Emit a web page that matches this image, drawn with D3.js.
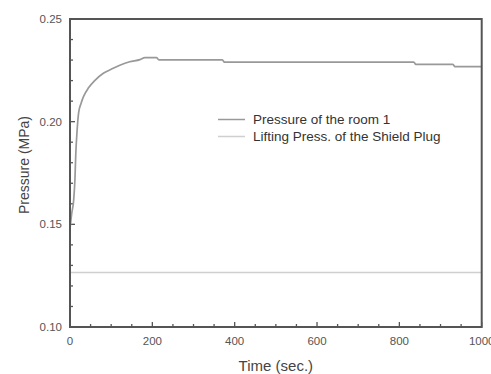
<!DOCTYPE html>
<html><head><meta charset="utf-8">
<script src="https://cdn.jsdelivr.net/npm/d3@7"></script>
<style>body{margin:0;background:#fff}svg{display:block}</style>
</head><body>
<script>
const timeSec = [0,4,9,12,14,17,21,27,33,45,60,81,100,121,145,170,182,210,216,370,375,835,840,930,935,1000];
const roomPressure = [0.148,0.155,0.162,0.172,0.184,0.195,0.2044,0.209,0.2123,0.2165,0.2200,0.2236,0.2255,0.2275,0.2292,0.2302,0.2312,0.2312,0.2301,0.2301,0.229,0.229,0.2279,0.2279,0.2268,0.2268];
const liftTime = [0,1000];
const liftPressure = [0.1265,0.1265];
const seriesNames = ["Pressure of the room 1","Lifting Press. of the Shield Plug"];
const xTicks = [0,200,400,600,800,1000];
const yTicks = [0.10,0.15,0.20,0.25];

const W=491,H=374;
const m={l:70,r:9.3,t:19,b:47};
const svg=d3.select("body").append("svg").attr("width",W).attr("height",H);
const x=d3.scaleLinear().domain([0,1000]).range([m.l,W-m.r]);
const y=d3.scaleLinear().domain([0.10,0.25]).range([H-m.b,m.t]);
const font="'Liberation Sans', Arial, sans-serif";
const axCol="#555";

// minor ticks
const xMinor=d3.range(0,1001,50), yMinor=d3.range(10,26).map(v=>v/100);
const g=svg.append("g");
g.selectAll(".xm").data(xMinor).join("line")
 .attr("x1",d=>x(d)).attr("x2",d=>x(d)).attr("y1",y(0.10)).attr("y2",d=>y(0.10)-(d%200===0?5:3))
 .attr("stroke",axCol).attr("stroke-width",1.3);
g.selectAll(".ym").data(yMinor).join("line")
 .attr("y1",d=>y(d)).attr("y2",d=>y(d)).attr("x1",x(0)).attr("x2",d=>x(0)+(Math.round(d*100)%5===0?5:3))
 .attr("stroke",axCol).attr("stroke-width",1.3);

// tick labels
g.selectAll(".xl").data(xTicks).join("text").attr("x",d=>x(d)).attr("y",y(0.10)+18)
 .attr("text-anchor","middle").attr("font-family",font).attr("font-size",11.5).attr("fill",axCol).text(d=>d);
g.selectAll(".yl").data(yTicks).join("text").attr("x",x(0)-8).attr("y",d=>y(d)+4)
 .attr("text-anchor","end").attr("font-family",font).attr("font-size",11.5).attr("fill",axCol).text(d=>d.toFixed(2));

// data lines
const line=d3.line().x(d=>x(d[0])).y(d=>y(d[1]));
svg.append("path").datum(liftTime.map((t,i)=>[t,liftPressure[i]])).attr("d",line)
 .attr("fill","none").attr("stroke","#cfcfcf").attr("stroke-width",1.5);
svg.append("path").datum(timeSec.map((t,i)=>[t,roomPressure[i]])).attr("d",line.curve(d3.curveMonotoneX))
 .attr("fill","none").attr("stroke","#999").attr("stroke-width",1.7);

// frame
svg.append("rect").attr("x",x(0)).attr("y",y(0.25)).attr("width",x(1000)-x(0)).attr("height",y(0.10)-y(0.25))
 .attr("fill","none").attr("stroke",axCol).attr("stroke-width",2);

// axis titles
svg.append("text").attr("x",(x(0)+x(1000))/2).attr("y",371).attr("text-anchor","middle")
 .attr("font-family",font).attr("font-size",15).attr("fill","#444").text("Time (sec.)");
svg.append("text").attr("transform","translate(29,165) rotate(-90)").attr("text-anchor","middle")
 .attr("font-family",font).attr("font-size",14).attr("fill","#444").text("Pressure (MPa)");

// legend
const legCols=["#999","#cfcfcf"];
const lg=svg.append("g");
seriesNames.forEach((n,i)=>{
  const yy=119.5+i*17;
  lg.append("line").attr("x1",218).attr("x2",245).attr("y1",yy).attr("y2",yy).attr("stroke",legCols[i]).attr("stroke-width",1.5);
  lg.append("text").attr("x",253).attr("y",yy+4.5).attr("font-family",font).attr("font-size",13.5).attr("fill","#333").text(n);
});
</script>
</body></html>
